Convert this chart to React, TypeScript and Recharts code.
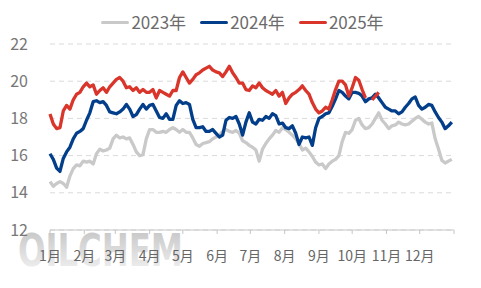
import React from "react";
import { LineChart, Line, XAxis, YAxis, CartesianGrid } from "recharts";

// 采样间隔（天）
const STEP = 3;

const monthStarts = [0, 31, 59, 90, 120, 151, 181, 212, 243, 273, 304, 334, 365];
const monthLabels = ["1月", "2月", "3月", "4月", "5月", "6月", "7月", "8月", "9月", "10月", "11月", "12月"];
const yTicks = [12, 14, 16, 18, 20, 22];

const price2023 = [
  14.6, 14.35, 14.5, 14.6, 14.5, 14.3, 14.9, 15.3, 15.5, 15.45, 15.7, 15.65, 15.7, 15.55, 16.1, 16.35, 16.25, 16.3, 16.4, 16.9,
  17.1, 16.95, 17.0, 16.9, 16.95, 16.6, 16.2, 16.0, 16.05, 16.9, 17.4, 17.4, 17.25, 17.25, 17.3, 17.25, 17.4, 17.5, 17.4, 17.25,
  17.4, 17.25, 17.25, 16.95, 16.6, 16.5, 16.65, 16.7, 16.75, 16.9, 17.0, 17.1, 17.3, 17.4, 17.3, 17.25, 17.35, 17.2, 16.8, 16.7,
  16.55, 16.45, 16.3, 15.7, 16.35, 16.65, 16.9, 17.1, 17.35, 17.25, 17.5, 17.4, 17.25, 17.1, 16.9, 16.65, 16.3, 16.4, 16.2, 15.95,
  15.65, 15.5, 15.55, 15.3, 15.55, 15.7, 15.8, 16.0, 16.75, 17.25, 17.2, 17.4, 17.9, 18.0, 17.65, 17.45, 17.5, 17.7, 18.0, 18.3,
  17.9, 17.7, 17.45, 17.6, 17.65, 17.8, 17.7, 17.65, 17.7, 17.85, 18.0, 18.1, 17.95, 17.8, 17.7, 17.75, 16.9, 16.35, 15.75, 15.6,
  15.7, 15.8,
];

const price2024 = [
  16.1, 15.8, 15.33, 15.15, 15.85, 16.2, 16.45, 16.9, 17.2, 17.3, 17.45, 17.9, 18.3, 18.9, 18.95, 18.85, 18.9, 18.7, 18.35, 18.3,
  18.25, 18.35, 18.5, 18.75, 18.5, 18.1, 18.2, 18.5, 18.75, 18.5, 18.7, 18.75, 18.4, 18.05, 18.0, 18.25, 17.95, 17.95, 18.7, 18.95,
  18.8, 18.85, 18.75, 17.95, 17.5, 17.5, 17.55, 17.3, 17.3, 17.4, 17.2, 17.0, 17.1, 17.9, 18.05, 18.0, 18.1, 17.7, 17.1, 17.8,
  18.3, 17.8, 17.7, 17.95, 17.9, 18.1, 18.0, 18.25, 18.15, 17.7, 17.75, 17.5, 17.45, 17.6, 17.2, 16.6, 17.0, 16.95, 17.0, 16.55,
  17.5, 18.0, 18.1, 18.25, 18.3, 18.65, 19.05, 19.5, 19.4, 19.2, 19.05, 19.4, 19.4, 19.35, 19.2, 18.9, 19.05, 19.1, 19.3, 19.1,
  18.85, 18.6, 18.5, 18.4, 18.4, 18.25, 18.35, 18.6, 18.8, 19.05, 19.15, 18.7, 18.5, 18.6, 18.75, 18.7, 18.35, 18.05, 17.8, 17.45,
  17.6, 17.8,
];

const price2025: (number | null)[] = [
  18.24, 17.7, 17.45, 17.5, 18.4, 18.7, 18.5, 19.0, 19.3, 19.4, 19.7, 19.9, 19.7, 19.8, 19.3, 19.5, 19.65, 19.4, 19.7, 19.9,
  20.1, 20.2, 20.0, 19.65, 19.7, 19.5, 19.65, 19.4, 19.55, 19.4, 19.4, 19.55, 19.1, 19.5, 19.4, 19.3, 19.2, 19.5, 19.5, 20.2,
  20.5, 20.2, 19.9, 20.1, 20.35, 20.45, 20.6, 20.7, 20.8, 20.6, 20.5, 20.45, 20.25, 20.5, 20.8, 20.45, 20.2, 19.9, 19.9, 19.55,
  19.5, 19.75, 19.65, 19.9, 19.65, 19.5, 19.4, 19.3, 19.5, 19.2, 19.4, 18.8, 19.1, 19.3, 19.4, 19.55, 19.75, 19.5, 19.3, 18.85,
  18.5, 18.3, 18.4, 18.6, 18.5, 19.0, 19.55, 20.0, 20.0, 19.8, 19.2, 19.65, 20.2, 20.05, 19.55, 19.1, null, 19.0, 19.2, 19.4,
];

const seriesList = [
  { key: "y2023", name: "2023年", color: "#c9c9c9" },
  { key: "y2024", name: "2024年", color: "#023e8a" },
  { key: "y2025", name: "2025年", color: "#d9352a" },
];

const chartData = price2023.map((v, i) => ({
  day: i * STEP,
  y2023: v,
  y2024: price2024[i] ?? null,
  y2025: price2025[i] ?? null,
}));

const fontFamily = "'Noto Sans CJK SC', 'Noto Sans', sans-serif";

const App: React.FC = () => {
  return (
    <div
      style={{
        position: "absolute",
        left: 0,
        top: 0,
        width: 481,
        height: 288,
        background: "#fff",
        fontFamily,
        overflow: "hidden",
      }}
    >
      {/* 水印 */}
      <svg width={481} height={288} style={{ position: "absolute", left: 0, top: 0 }}>
        <defs>
          <linearGradient id="wmGrad" x1="0" y1="0" x2="0" y2="1">
            <stop offset="0%" stopColor="#c2c2c2" />
            <stop offset="100%" stopColor="#f5f5f5" />
          </linearGradient>
        </defs>
        <text
          x={18}
          y={266}
          fontSize={44}
          fontWeight={700}
          fill="url(#wmGrad)"
          textLength={165}
          lengthAdjust="spacingAndGlyphs"
          fontFamily="'DejaVu Sans', sans-serif"
        >
          OILCHEM
        </text>
      </svg>

      {/* 图例 */}
      <div
        style={{
          position: "absolute",
          left: 0,
          top: 10,
          width: 481,
          height: 24,
          display: "flex",
          justifyContent: "center",
          alignItems: "center",
          paddingLeft: 4,
          boxSizing: "border-box",
        }}
      >
        {seriesList.map((s) => (
          <div key={s.key} style={{ display: "flex", alignItems: "center", margin: "0 7px" }}>
            <span
              style={{
                display: "inline-block",
                width: 28,
                height: 3,
                borderRadius: 2,
                background: s.color,
                marginRight: 2,
              }}
            />
            <span style={{ fontSize: 17, color: "#6b6b6b", lineHeight: "24px" }}>{s.name}</span>
          </div>
        ))}
      </div>

      <div style={{ position: "absolute", left: 0, top: 0 }}>
        <LineChart
          width={481}
          height={288}
          data={chartData}
          margin={{ top: 44, right: 27, left: 0, bottom: 0 }}
        >
          <CartesianGrid vertical={false} stroke="#dadada" strokeDasharray="5 4" />
          <XAxis
            type="number"
            dataKey="day"
            domain={[0, 365]}
            ticks={monthStarts}
            interval={0}
            tickFormatter={(v: number) => monthLabels[monthStarts.indexOf(v)] ?? ""}
            height={58}
            axisLine={{ stroke: "#c6c6c6" }}
            tickLine={{ stroke: "#c6c6c6" }}
            tickSize={4}
            tickMargin={17}
            tick={{ fontSize: 14, fill: "#666", fontFamily }}
          />
          <YAxis
            domain={[12, 22]}
            ticks={yTicks}
            interval={0}
            width={50}
            axisLine={false}
            tickLine={false}
            tickSize={0}
            tickMargin={22}
            tick={{ fontSize: 16, fill: "#777", fontFamily }}
          />
          {seriesList.map((s) => (
            <Line
              key={s.key}
              type="linear"
              dataKey={s.key}
              name={s.name}
              stroke={s.color}
              strokeWidth={3.3}
              strokeLinejoin="round"
              dot={false}
              activeDot={false}
              connectNulls={false}
              isAnimationActive={false}
            />
          ))}
        </LineChart>
      </div>
    </div>
  );
};

export default App;
